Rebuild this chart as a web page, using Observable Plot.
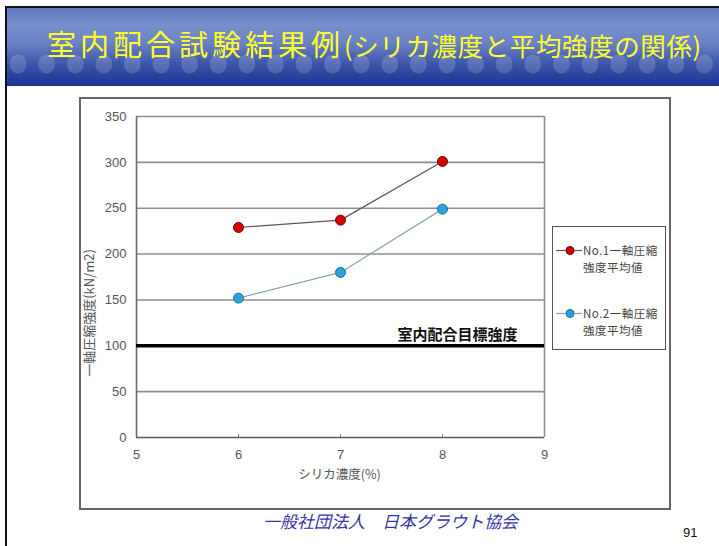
<!DOCTYPE html>
<html>
<head>
<meta charset="utf-8">
<script src="https://cdn.jsdelivr.net/npm/d3@7"></script>
<script src="https://cdn.jsdelivr.net/npm/@observablehq/plot@0.6"></script>
<style>
  html, body { margin: 0; padding: 0; background: #fff; }
  #page { position: relative; width: 719px; height: 546px; overflow: hidden; background: #fff;
          font-family: "Liberation Sans", "Noto Sans CJK JP", sans-serif; }
  #frameLeft { position: absolute; left: 5px; top: 6px; width: 2px; height: 540px; background: #111; }
  #header { position: absolute; left: 5px; top: 6px; width: 714px; height: 78px;
            border-top: 2px solid #111;
            background: linear-gradient(to bottom, #5d78bf 0%, #7890cc 22%, #6a82c4 45%, #3b55aa 72%, #1a3393 100%); }
  #bubbles { position: absolute; left: 0; top: 0; }
  #title { position: absolute; left: 42px; top: 21px; color: #ffff2e; white-space: nowrap;
           font-family: "Noto Sans CJK JP", sans-serif; line-height: 1; }
  #title .big { font-size: 29px; letter-spacing: 4px; }
  #title .small { font-size: 25.5px; letter-spacing: 0.6px; }
  #chartbox { position: absolute; left: 79px; top: 97px; width: 588px; height: 409px;
              border: 2px solid #666; }
  #chart { position: absolute; left: 79px; top: 97px; }
  #legend { position: absolute; left: 552px; top: 226px; width: 112px; height: 122px;
            border: 1.5px solid #555; background: #fff; }
  .lg { position: absolute; left: 0; font-family: "Noto Sans CJK JP", sans-serif; font-size: 11.5px;
        color: #444; line-height: 17px; letter-spacing: 0.5px; }
  .lg svg { position: absolute; left: 2px; top: 0; }
  .lg .t { position: absolute; left: 30px; top: 0; white-space: nowrap; }
  #footer { position: absolute; left: 263px; top: 512px; font-family: "Noto Sans CJK JP", sans-serif;
            font-style: italic; font-size: 17px; color: #3434a4; white-space: pre; line-height: 1; }
  #pagenum { position: absolute; left: 683px; top: 525px; font-size: 13px; color: #111; }
</style>
</head>
<body>
<div id="page">
  <div id="header">
    <svg id="bubbles" width="714" height="78"></svg>
    <div id="title"><span class="big"></span><span class="small"></span></div>
  </div>
  <div id="frameLeft"></div>
  <div id="chartbox"></div>
  <div id="chart"></div>
  <div id="legend"></div>
  <div id="footer"></div>
  <div id="pagenum"></div>
</div>
<script>
// ---- text ----
const titleMain = "室内配合試験結果例";
const titleSub = "(シリカ濃度と平均強度の関係)";
const xLabel = "シリカ濃度(%)";
const yLabel = "一軸圧縮強度(kN/m2)";
const targetLabel = "室内配合目標強度";
const footerText = "一般社団法人　日本グラウト協会";
const pageNumber = "91";

// ---- data ----
const silica = [6, 7, 8];
const no1Strength = [229, 237, 301];
const no2Strength = [152, 180, 249];
const seriesNames = ["No.1一軸圧縮|強度平均値", "No.2一軸圧縮|強度平均値"];
const targetStrength = 100;
const xTicks = [5, 6, 7, 8, 9];
const yTicks = [0, 50, 100, 150, 200, 250, 300, 350];

const colors = {
  line1: "#6a5050", dot1: "#d20000", dotStroke1: "#7a0000",
  line2: "#86a6a8", dot2: "#2aa3d8", dotStroke2: "#17729e"
};

// ---- header decoration ----
const bub = d3.select("#bubbles");
for (let i = 0; i < 25; i++) {
  bub.append("ellipse").attr("cx", 13 + i * 28.6).attr("cy", 56).attr("rx", 8.5).attr("ry", 9.5)
     .attr("fill", "#ffffff").attr("fill-opacity", 0.16);
}
document.querySelector("#title .big").textContent = titleMain;
document.querySelector("#title .small").textContent = titleSub;
document.getElementById("footer").textContent = footerText;
document.getElementById("pagenum").textContent = pageNumber;

// ---- table ----
const s1 = silica.map((x, i) => ({x, y: no1Strength[i]}));
const s2 = silica.map((x, i) => ({x, y: no2Strength[i]}));

const chart = Plot.plot({
  width: 590,
  height: 411,
  marginLeft: 57,
  marginRight: 125,
  marginTop: 19,
  marginBottom: 71,
  x: {type: "linear", domain: [5, 9]},
  y: {type: "linear", domain: [0, 350]},
  style: {fontFamily: "'Liberation Sans', 'Noto Sans CJK JP', sans-serif", background: "transparent", overflow: "visible"},
  marks: [
    Plot.ruleY(yTicks.filter(d => d > 0), {stroke: "#8e8e8e", strokeWidth: 1.6}),
    Plot.ruleX([xTicks[0]], {stroke: "#6a6a6a", strokeWidth: 1.6}),
    Plot.ruleX([xTicks[xTicks.length - 1]], {stroke: "#8e8e8e", strokeWidth: 1.6}),
    Plot.ruleY([0], {stroke: "#5a5a5a", strokeWidth: 1.6}),
    Plot.ruleX(silica, {x: d => d, y1: 0, y2: 0, insetTop: -3, stroke: "#777", strokeWidth: 1}),
    Plot.ruleY([targetStrength], {stroke: "#000", strokeWidth: 3.5}),
    Plot.text([targetLabel], {x: xTicks[xTicks.length - 1], y: targetStrength, text: d => d,
      dx: -27, dy: -6, textAnchor: "end", lineAnchor: "bottom", fontSize: 15, fontWeight: "bold",
      fill: "#111", fontFamily: "'Noto Sans CJK JP', sans-serif"}),
    Plot.line(s1, {x: "x", y: "y", stroke: colors.line1, strokeWidth: 1.2}),
    Plot.line(s2, {x: "x", y: "y", stroke: colors.line2, strokeWidth: 1.2}),
    Plot.dot(s1, {x: "x", y: "y", r: 5, fill: colors.dot1, stroke: colors.dotStroke1, strokeWidth: 1}),
    Plot.dot(s2, {x: "x", y: "y", r: 5, fill: colors.dot2, stroke: colors.dotStroke2, strokeWidth: 1}),
    Plot.axisY({ticks: yTicks, tickSize: 0, tickPadding: 10, fontSize: 13, fill: "#555", label: null, tickFormat: d => String(d)}),
    Plot.axisX({ticks: xTicks, tickSize: 0, tickPadding: 12, fontSize: 13, fill: "#555", label: null, tickFormat: d => String(d)}),
    Plot.text([yLabel], {frameAnchor: "left", text: d => d, rotate: -90, textAnchor: "middle", dx: -47, dy: 36,
      fontSize: 13, fill: "#555", fontFamily: "'Noto Sans CJK JP', sans-serif"}),
    Plot.text([xLabel], {frameAnchor: "bottom", text: d => d, dy: 41, dx: -1,
      fontSize: 12.5, fill: "#555", fontFamily: "'Noto Sans CJK JP', sans-serif"})
  ]
});
document.getElementById("chart").appendChild(chart);

// ---- legend ----
const legend = document.getElementById("legend");
const lgItems = [
  {name: seriesNames[0], line: colors.line1, fill: colors.dot1, stroke: colors.dotStroke1, top: 15},
  {name: seriesNames[1], line: colors.line2, fill: colors.dot2, stroke: colors.dotStroke2, top: 78}
];
lgItems.forEach(it => {
  const [l1, l2] = it.name.split("|");
  const div = document.createElement("div");
  div.className = "lg";
  div.style.top = it.top + "px";
  div.innerHTML = `<svg width="28" height="17"><line x1="1" x2="27" y1="8.5" y2="8.5" stroke="${it.line}" stroke-width="1.2"/>
    <circle cx="15" cy="8.5" r="4" fill="${it.fill}" stroke="${it.stroke}" stroke-width="1"/></svg>
    <div class="t">${l1}<br>${l2}</div>`;
  legend.appendChild(div);
});
</script>
</body>
</html>
